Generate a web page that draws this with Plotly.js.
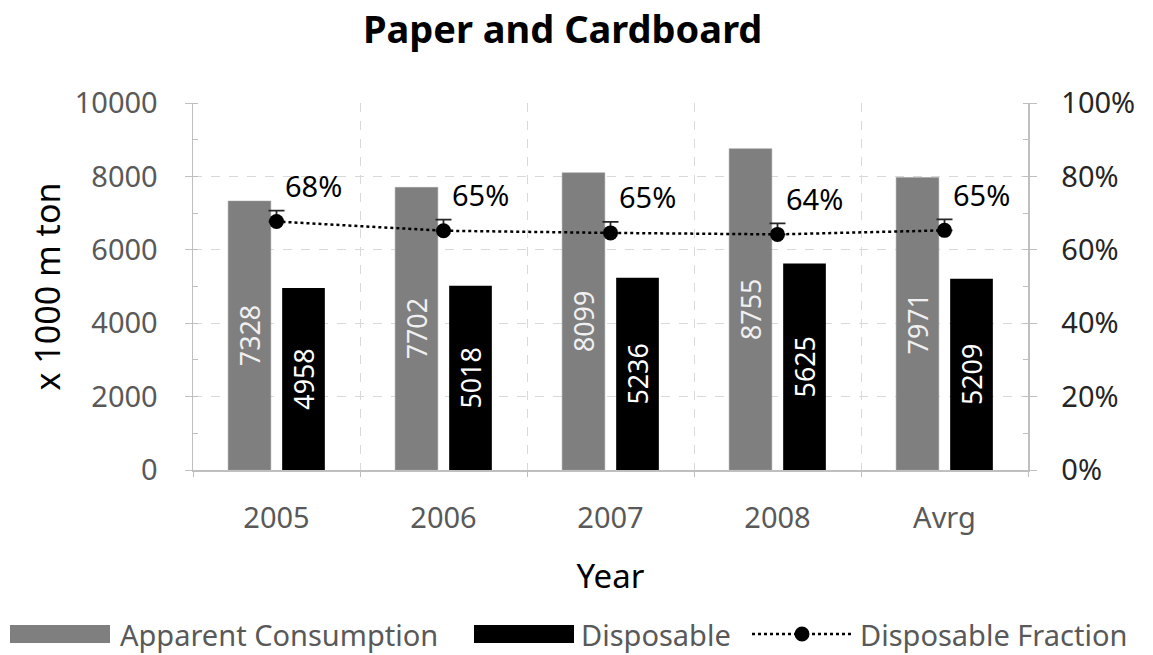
<!DOCTYPE html>
<html>
<head>
<meta charset="utf-8">
<script src="https://cdn.plot.ly/plotly-3.0.1.min.js"></script>
<style>
  html, body { margin: 0; padding: 0; background: #ffffff; }
  #chart { width: 1153px; height: 655px; }
</style>
</head>
<body>
<div id="chart"></div>
<script>
// Paper and cardboard: apparent consumption vs. disposable amount (x 1000 m ton)
const years = ['2005', '2006', '2007', '2008', 'Avrg'];
const apparentConsumption = [7328, 7702, 8099, 8755, 7971];
const disposable = [4958, 5018, 5236, 5625, 5209];
// disposable share of apparent consumption
const disposableFraction = [0.677, 0.652, 0.646, 0.642, 0.653];
const fractionError = [0.03, 0.03, 0.03, 0.03, 0.03];
const seriesNames = ['Apparent Consumption', 'Disposable', 'Disposable Fraction'];

const FONT = 'Noto Sans, Open Sans, DejaVu Sans, sans-serif';
const GRID = '#d9d9d9';
const AXIS = '#bfbfbf';
const TICKTXT = '#595959';
const GRAY_BAR = '#7f7f7f';

const W = 1153, H = 655;
const M = { l: 193, r: 125, t: 103, b: 185 };
const plotW = W - M.l - M.r;
const plotH = H - M.t - M.b;
// page pixels -> paper coordinates (used for the legend row under the chart)
const px = v => (v - M.l) / plotW;
const py = v => (H - M.b - v) / plotH;

const traces = [
  {
    type: 'bar',
    name: seriesNames[0],
    x: years,
    y: apparentConsumption,
    marker: { color: GRAY_BAR, line: { color: '#9a9a9a', width: 0.5 } },
    text: apparentConsumption.map(String),
    textposition: 'inside',
    insidetextanchor: 'middle',
    textangle: -90,
    textfont: { family: FONT, size: 30, color: '#f0f0f0' },
    showlegend: false
  },
  {
    type: 'bar',
    name: seriesNames[1],
    x: years,
    y: disposable,
    marker: { color: '#000000' },
    text: disposable.map(String),
    textposition: 'inside',
    insidetextanchor: 'middle',
    textangle: -90,
    textfont: { family: FONT, size: 30, color: '#ffffff' },
    showlegend: false
  },
  {
    type: 'scatter',
    mode: 'lines+markers',
    name: seriesNames[2],
    x: years,
    y: disposableFraction,
    yaxis: 'y2',
    line: { color: '#000000', width: 2.5, dash: 'dot' },
    marker: { color: '#000000', size: 15, symbol: 'circle' },
    error_y: {
      type: 'data',
      array: fractionError,
      arrayminus: fractionError.map(() => 0),
      symmetric: false,
      color: '#262626',
      thickness: 1.8,
      width: 8
    },
    showlegend: false
  }
];

// percentage labels above-right of each fraction point (x given as category index)
const annotations = years.map((yr, i) => ({
  x: i,
  y: disposableFraction[i],
  xref: 'x',
  yref: 'y2',
  text: Math.round(disposableFraction[i] * 100) + '%',
  showarrow: false,
  xshift: 37,
  yshift: 36,
  font: { family: FONT, size: 29, color: '#000000' }
}));

// legend row: wide swatches followed by their labels
const legendY = 634;
const legendItems = [
  { swatchX: 10, textX: 118 },
  { swatchX: 474, textX: 579 },
  { swatchX: 752, textX: 858 }
];
legendItems.forEach((it, i) => {
  annotations.push({
    x: px(it.textX),
    y: py(legendY),
    xref: 'paper',
    yref: 'paper',
    xanchor: 'left',
    yanchor: 'middle',
    text: seriesNames[i],
    showarrow: false,
    font: { family: FONT, size: 29, color: TICKTXT }
  });
});
const shapes = [
  {
    type: 'rect', xref: 'paper', yref: 'paper',
    x0: px(10), x1: px(110), y0: py(legendY - 9), y1: py(legendY + 9),
    fillcolor: GRAY_BAR, line: { width: 0 }
  },
  {
    type: 'rect', xref: 'paper', yref: 'paper',
    x0: px(474), x1: px(574), y0: py(legendY - 9), y1: py(legendY + 9),
    fillcolor: '#000000', line: { width: 0 }
  },
  {
    type: 'line', xref: 'paper', yref: 'paper',
    x0: px(752), x1: px(852), y0: py(legendY), y1: py(legendY),
    line: { color: '#000000', width: 2.5, dash: 'dot' }
  },
  {
    type: 'circle', xref: 'paper', yref: 'paper',
    x0: px(802 - 7.5), x1: px(802 + 7.5), y0: py(legendY - 7.5), y1: py(legendY + 7.5),
    fillcolor: '#000000', line: { width: 0 }
  }
];

const layout = {
  width: W,
  height: H,
  paper_bgcolor: '#ffffff',
  plot_bgcolor: '#ffffff',
  font: { family: FONT, color: TICKTXT },
  margin: { l: M.l, r: M.r, t: M.t, b: M.b, pad: 0 },
  title: {
    text: '<b>Paper and Cardboard</b>',
    font: { family: FONT, size: 38, color: '#000000' },
    x: 0.488,
    xanchor: 'center',
    y: 0.955,
    yanchor: 'middle'
  },
  barmode: 'group',
  bargap: 0.353,
  bargroupgap: 0.21,
  showlegend: false,
  xaxis: {
    type: 'category',
    tickson: 'boundaries',
    showgrid: true,
    gridcolor: GRID,
    griddash: 'dash',
    gridwidth: 1,
    showline: true,
    linecolor: AXIS,
    linewidth: 1.5,
    ticks: 'outside',
    ticklen: 5,
    tickcolor: AXIS,
    tickangle: 0,
    tickfont: { family: FONT, size: 29, color: TICKTXT },
    ticklabelstandoff: 22,
    automargin: false,
    title: {
      text: 'Year',
      font: { family: FONT, size: 33, color: '#000000' },
      standoff: 29
    }
  },
  yaxis: {
    range: [0, 10000],
    dtick: 2000,
    tick0: 0,
    tickformat: 'd',
    showgrid: true,
    gridcolor: GRID,
    griddash: 'dash',
    gridwidth: 1,
    zeroline: false,
    showline: true,
    linecolor: AXIS,
    linewidth: 1.5,
    ticks: 'outside',
    ticklen: 7,
    tickcolor: AXIS,
    minor: { dtick: 1000, ticks: 'inside', ticklen: 5, tickcolor: AXIS, showgrid: false },
    tickfont: { family: FONT, size: 29, color: TICKTXT },
    ticklabelstandoff: 21,
    automargin: false,
    title: {
      text: 'x 1000 m ton',
      font: { family: FONT, size: 34, color: '#000000' },
      standoff: 4
    }
  },
  yaxis2: {
    overlaying: 'y',
    side: 'right',
    range: [0, 1],
    dtick: 0.2,
    tick0: 0,
    tickformat: '.0%',
    showgrid: false,
    zeroline: false,
    showline: true,
    linecolor: AXIS,
    linewidth: 1.5,
    ticks: 'outside',
    ticklen: 7,
    tickcolor: AXIS,
    minor: { dtick: 0.1, ticks: 'inside', ticklen: 5, tickcolor: AXIS },
    tickfont: { family: FONT, size: 29, color: '#262626' },
    ticklabelstandoff: 19,
    automargin: false
  },
  annotations: annotations,
  shapes: shapes
};

Plotly.newPlot('chart', traces, layout, { displayModeBar: false, staticPlot: true });
</script>
</body>
</html>
